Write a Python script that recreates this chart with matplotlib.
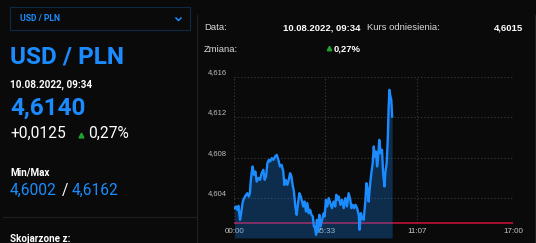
import matplotlib.pyplot as plt
import matplotlib.transforms as mtransforms
from matplotlib.lines import Line2D
from matplotlib.patches import Rectangle

# intraday USD/PLN quotes (minutes after 00:00, rate)
minutes = [1, 6, 11, 15, 21, 25, 31, 36, 43, 48, 53, 57, 60, 64, 67, 72, 77, 82,
           88, 94, 100, 106, 111, 116, 121, 126, 131, 137, 143, 149, 155, 161,
           167, 173, 179, 183, 188, 194, 199, 204, 209, 213, 218, 223, 228, 233,
           238, 243, 248, 252, 257, 262, 267, 272, 277, 282, 287, 291, 294, 299,
           302, 306, 311, 315, 321, 327, 330, 335, 340, 345, 351, 357, 363, 369,
           373, 378, 382, 388, 394, 400, 406, 412, 418, 424, 428, 433, 438, 443,
           449, 455, 458, 463, 467, 473, 479, 483, 488, 491, 497, 501, 506, 510,
           513, 518, 522, 525, 530, 535, 540, 544, 549, 552, 557, 561, 564, 567,
           571, 574, 577]
rate = [4.60297, 4.60314, 4.60281, 4.60320, 4.60181, 4.60247, 4.60363, 4.60397,
        4.60430, 4.60446, 4.60413, 4.60446, 4.60562, 4.60662, 4.60712, 4.60629,
        4.60662, 4.60562, 4.60596, 4.60579, 4.60645, 4.60679, 4.60579, 4.60612,
        4.60745, 4.60778, 4.60761, 4.60795, 4.60778, 4.60811, 4.60828, 4.60778,
        4.60712, 4.60728, 4.60662, 4.60529, 4.60579, 4.60529, 4.60579, 4.60645,
        4.60612, 4.60529, 4.60463, 4.60314, 4.60231, 4.60347, 4.60446, 4.60413,
        4.60363, 4.60314, 4.60363, 4.60264, 4.60347, 4.60247, 4.60281, 4.60231,
        4.60214, 4.60115, 4.60115, 4.60032, 4.60181, 4.60065, 4.60231, 4.60115,
        4.60181, 4.60247, 4.60214, 4.60380, 4.60314, 4.60397, 4.60347, 4.60297,
        4.60363, 4.60314, 4.60430, 4.60380, 4.60413, 4.60330, 4.60380, 4.60297,
        4.60397, 4.60314, 4.60446, 4.60380, 4.60297, 4.60330, 4.60297, 4.60330,
        4.60297, 4.60231, 4.60082, 4.60247, 4.60198, 4.60181, 4.60363, 4.60546,
        4.60480, 4.60363, 4.60546, 4.60645, 4.60745, 4.60911, 4.60811, 4.60861,
        4.60712, 4.60778, 4.60977, 4.60844, 4.60878, 4.60645, 4.60513, 4.60645,
        4.60745, 4.60977, 4.61276, 4.61475, 4.61408, 4.61375, 4.61209]
ref_rate = 4.6015

y_ticks = [4.604, 4.608, 4.612, 4.616]
y_labels = ['4,604', '4,608', '4,612', '4,616']
x_ticks = [0, 333, 667, 1020]
x_labels = ['00:00', '05:33', '11:07', '17:00']

BG = '#0a0a0a'
BLUE = '#1a8cff'
GREEN = '#1fa32e'
W, H = 536, 243


def fx(x):
    return x / W


def fy(y):
    return 1 - y / H


fig = plt.figure(figsize=(W / 100, H / 100), dpi=100, facecolor=BG)

# ---- chart ----
ax = fig.add_axes([fx(234.3), fy(238), fx(513.3) - fx(234.3), fy(77.3) - fy(238)])
ax.set_facecolor(BG)
ax.set_xlim(0, 1020)
ax.set_ylim(4.600, 4.616)
for s in ax.spines.values():
    s.set_visible(False)

grid_kw = dict(colors='#3c3c3c', linestyles=(0, (1, 2)), linewidth=0.8, zorder=0)
ax.hlines(y_ticks, 0, 1020, **grid_kw)
ax.vlines(x_ticks, ref_rate, 4.616, **grid_kw)

ax.axhline(ref_rate, color='#d0103a', lw=1.1, zorder=1)
ax.fill_between(minutes, rate, 4.600, color=BLUE, alpha=0.27, lw=0, zorder=2)
ax.plot(minutes, rate, color=BLUE, lw=1.7, zorder=3)

ax.set_yticks(y_ticks, y_labels)
ax.set_xticks(x_ticks, x_labels)
ax.tick_params(axis='y', length=0, pad=5, labelsize=5.5, labelcolor='#bdbdbd')
ax.tick_params(axis='x', length=0, pad=-7.5, labelsize=5.8, labelcolor='#c8c8c8')
off = mtransforms.ScaledTranslation(0, 5.5 / 100, fig.dpi_scale_trans)
for lbl in ax.get_yticklabels():
    lbl.set_transform(lbl.get_transform() + off)
    lbl.set_family('Liberation Sans')
for lbl in ax.get_xticklabels():
    lbl.set_family('Liberation Sans')

# ---- panel frames ----
line_c = '#1f1f1f'
fig.add_artist(Line2D([fx(197), fx(197)], [fy(15), fy(243)], color=line_c, lw=0.8))
fig.add_artist(Line2D([fx(535), fx(535)], [fy(15), fy(243)], color=line_c, lw=0.8))
fig.add_artist(Line2D([fx(3), fx(197)], [fy(217), fy(217)], color=line_c, lw=0.8))
fig.add_artist(Rectangle((fx(9.5), fy(30)), fx(190) - fx(9.5), fy(7) - fy(30),
                         transform=fig.transFigure, fill=False,
                         edgecolor='#0f2a45', lw=0.8))
fig.add_artist(Line2D([fx(176), fx(178.5), fx(181)], [fy(18), fy(20.5), fy(18)],
                      color=BLUE, lw=1.1))

# ---- left panel text ----
L = dict(family='Roboto', va='baseline')
fig.text(fx(20), fy(21), 'USD / PLN', color=BLUE, fontsize=6.2, weight='bold', **L)
fig.text(fx(10), fy(63), 'USD / PLN', color=BLUE, fontsize=17.6, weight='bold', **L)
fig.text(fx(10), fy(88), '10.08.2022, 09:34', color='white', fontsize=7.1,
         weight='bold', **L)
fig.text(fx(10), fy(115), '4,6140', color=BLUE, fontsize=17.5, weight='bold', **L)
fig.text(fx(10), fy(138), '+0,0125', color='white', fontsize=11.2, **L)
fig.add_artist(Line2D([fx(81)], [fy(134.5)], marker='^', color=GREEN, ms=3.5, lw=0))
fig.text(fx(88), fy(138), '0,27%', color='white', fontsize=11.2, **L)
fig.text(fx(10), fy(175.7), 'Min/Max', color='white', fontsize=7.1, weight='bold', **L)
fig.text(fx(10), fy(195), '4,6002', color=BLUE, fontsize=11.2, **L)
fig.text(fx(62), fy(195), '/', color='white', fontsize=11.2, **L)
fig.text(fx(72), fy(195), '4,6162', color=BLUE, fontsize=11.2, **L)
fig.text(fx(10), fy(241.7), 'Skojarzone z:', color='white', fontsize=7.1,
         weight='bold', **L)

# ---- right panel header ----
R = dict(family='Liberation Sans', va='baseline', fontsize=6.8)
fig.text(fx(204), fy(30), 'Data:', color='#d8d8d8', **R)
fig.text(fx(360.7), fy(30), '10.08.2022, 09:34', color='white', weight='bold',
         ha='right', **R)
fig.text(fx(366.7), fy(30), 'Kurs odniesienia:', color='#d8d8d8', **R)
fig.text(fx(523), fy(30), '4,6015', color='white', weight='bold', ha='right', **R)
fig.text(fx(204), fy(51.7), 'Zmiana:', color='#d8d8d8', **R)
fig.add_artist(Line2D([fx(329)], [fy(48)], marker='^', color=GREEN, ms=3.2, lw=0))
fig.text(fx(360.7), fy(51.7), '0,27%', color='white', weight='bold', ha='right', **R)

fig.savefig('out.png', dpi=100, facecolor=BG)
